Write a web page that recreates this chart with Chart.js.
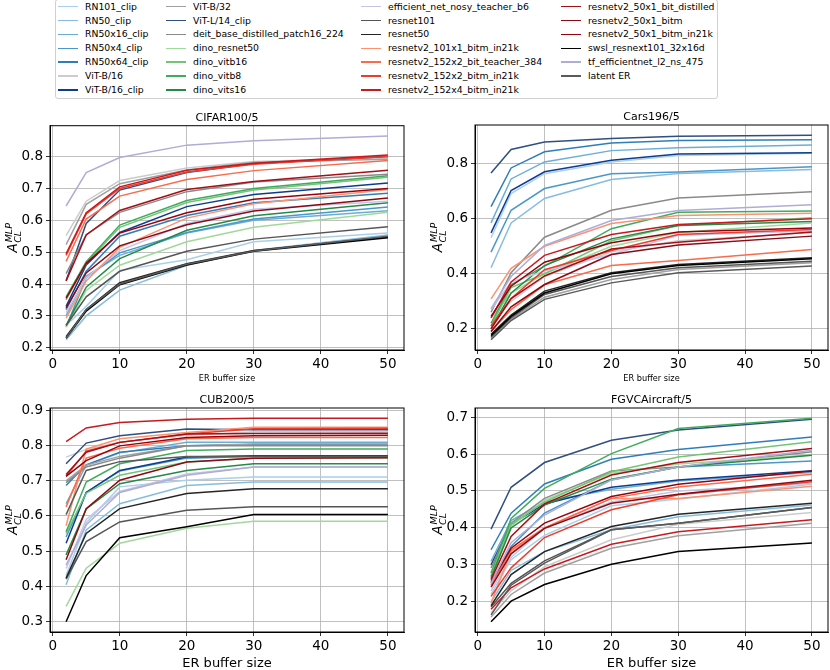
<!DOCTYPE html>
<html><head><meta charset="utf-8">
<script src="https://cdn.jsdelivr.net/npm/chart.js@4/dist/chart.umd.min.js"></script>
<style>
html,body{margin:0;padding:0;background:#fff;width:830px;height:670px;overflow:hidden;font-family:"DejaVu Sans",sans-serif;}
.cw{position:absolute;}
#legendBox{position:absolute;left:55px;top:-1px;width:663px;height:100px;border:1px solid #d0d0d0;border-radius:3px;box-sizing:border-box;background:#fff;}
.lt{position:absolute;font-size:9.3px;line-height:12px;height:12px;white-space:nowrap;color:#000;font-family:"DejaVu Sans";}
.sw{position:absolute;height:1.6px;width:20px;}
</style></head><body>
<div id="legendBox"></div>
<div id="legendItems"></div>
<div class="cw" style="left:0;top:100px;width:415px;height:285px"><canvas id="c0" width="415" height="285"></canvas></div>
<div class="cw" style="left:420px;top:100px;width:410px;height:285px"><canvas id="c1" width="410" height="285"></canvas></div>
<div class="cw" style="left:0;top:385px;width:415px;height:285px"><canvas id="c2" width="415" height="285"></canvas></div>
<div class="cw" style="left:420px;top:385px;width:410px;height:285px"><canvas id="c3" width="410" height="285"></canvas></div>
<script>
// ---------------- data ----------------
const xValues = [2, 5, 10, 20, 30, 50];
const xTicks = [0, 10, 20, 30, 40, 50];

const seriesNames = [
  'RN101_clip','RN50_clip','RN50x16_clip','RN50x4_clip','RN50x64_clip','ViT-B/16','ViT-B/16_clip',
  'ViT-B/32','ViT-L/14_clip','deit_base_distilled_patch16_224','dino_resnet50','dino_vitb16','dino_vitb8','dino_vits16',
  'efficient_net_nosy_teacher_b6','resnet101','resnet50','resnetv2_101x1_bitm_in21k','resnetv2_152x2_bit_teacher_384','resnetv2_152x2_bitm_in21k','resnetv2_152x4_bitm_in21k',
  'resnetv2_50x1_bit_distilled','resnetv2_50x1_bitm','resnetv2_50x1_bitm_in21k','swsl_resnext101_32x16d','tf_efficientnet_l2_ns_475','latent ER'
];
const seriesColors = [
  '#a9d0e9','#86bddf','#6aaed6','#4a98c9','#2f7ebc','#cccccc','#0d3d8f',
  '#a0a0a0','#2f4f82','#8a8a8a','#a1d99b','#74c476','#41ab5d','#238b45',
  '#c5c4e6','#555555','#252525','#fc9272','#fb6a4a','#ef3b2c','#cb181d',
  '#a50f15','#8b0a14','#99000d','#000000','#aeadd6','#5a5a5a'
];

const cifar100Values = [
  [0.27, 0.33, 0.443, 0.476, 0.533, 0.56],
  [0.225, 0.30, 0.381, 0.459, 0.505, 0.554],
  [0.30, 0.425, 0.49, 0.56, 0.60, 0.63],
  [0.265, 0.42, 0.498, 0.562, 0.604, 0.642],
  [0.32, 0.44, 0.55, 0.615, 0.655, 0.685],
  [0.552, 0.66, 0.725, 0.764, 0.785, 0.795],
  [0.33, 0.46, 0.562, 0.643, 0.681, 0.717],
  [0.524, 0.65, 0.715, 0.758, 0.782, 0.792],
  [0.41, 0.59, 0.695, 0.75, 0.778, 0.80],
  [0.433, 0.555, 0.625, 0.69, 0.72, 0.745],
  [0.265, 0.38, 0.459, 0.533, 0.578, 0.625],
  [0.35, 0.465, 0.578, 0.656, 0.695, 0.735],
  [0.36, 0.47, 0.585, 0.662, 0.70, 0.74],
  [0.27, 0.39, 0.48, 0.569, 0.614, 0.655],
  [0.31, 0.42, 0.505, 0.59, 0.635, 0.66],
  [0.27, 0.36, 0.44, 0.503, 0.541, 0.58],
  [0.235, 0.32, 0.404, 0.464, 0.505, 0.548],
  [0.293, 0.41, 0.515, 0.607, 0.652, 0.697],
  [0.471, 0.604, 0.676, 0.728, 0.756, 0.788],
  [0.49, 0.62, 0.70, 0.752, 0.776, 0.80],
  [0.495, 0.624, 0.705, 0.757, 0.779, 0.805],
  [0.41, 0.554, 0.631, 0.697, 0.722, 0.757],
  [0.325, 0.435, 0.52, 0.586, 0.629, 0.67],
  [0.355, 0.465, 0.56, 0.624, 0.666, 0.70],
  [0.23, 0.315, 0.398, 0.46, 0.503, 0.545],
  [0.645, 0.75, 0.797, 0.836, 0.85, 0.865],
  [0.23, 0.32, 0.40, 0.462, 0.504, 0.55]
];
const cars196Values = [
  [0.531, 0.692, 0.764, 0.807, 0.83, 0.838],
  [0.422, 0.585, 0.674, 0.743, 0.765, 0.779],
  [0.585, 0.745, 0.807, 0.848, 0.858, 0.868],
  [0.479, 0.631, 0.71, 0.764, 0.77, 0.789],
  [0.644, 0.785, 0.844, 0.876, 0.885, 0.888],
  [0.22, 0.30, 0.39, 0.48, 0.52, 0.55],
  [0.549, 0.703, 0.771, 0.813, 0.836, 0.84],
  [0.165, 0.235, 0.315, 0.379, 0.416, 0.44],
  [0.767, 0.852, 0.879, 0.892, 0.90, 0.904],
  [0.26, 0.404, 0.533, 0.631, 0.676, 0.698],
  [0.24, 0.33, 0.40, 0.50, 0.55, 0.585],
  [0.21, 0.35, 0.40, 0.52, 0.576, 0.604],
  [0.22, 0.36, 0.428, 0.564, 0.624, 0.628],
  [0.20, 0.33, 0.43, 0.527, 0.576, 0.59],
  [0.27, 0.37, 0.41, 0.47, 0.54, 0.556],
  [0.17, 0.24, 0.325, 0.39, 0.422, 0.446],
  [0.18, 0.25, 0.337, 0.404, 0.434, 0.458],
  [0.309, 0.42, 0.50, 0.583, 0.612, 0.62],
  [0.19, 0.27, 0.36, 0.43, 0.448, 0.488],
  [0.21, 0.31, 0.415, 0.485, 0.543, 0.561],
  [0.24, 0.37, 0.467, 0.543, 0.579, 0.60],
  [0.20, 0.31, 0.392, 0.49, 0.515, 0.552],
  [0.19, 0.28, 0.361, 0.47, 0.505, 0.537],
  [0.245, 0.355, 0.442, 0.513, 0.552, 0.567],
  [0.175, 0.245, 0.33, 0.40, 0.43, 0.455],
  [0.273, 0.39, 0.503, 0.594, 0.63, 0.651],
  [0.16, 0.23, 0.307, 0.367, 0.404, 0.428]
];
const cub200Values = [
  [0.43, 0.58, 0.683, 0.702, 0.711, 0.711],
  [0.404, 0.56, 0.635, 0.687, 0.697, 0.697],
  [0.635, 0.745, 0.78, 0.81, 0.81, 0.81],
  [0.54, 0.667, 0.728, 0.765, 0.77, 0.77],
  [0.687, 0.746, 0.782, 0.80, 0.804, 0.804],
  [0.768, 0.79, 0.81, 0.83, 0.84, 0.84],
  [0.522, 0.667, 0.73, 0.768, 0.772, 0.772],
  [0.70, 0.745, 0.77, 0.80, 0.805, 0.805],
  [0.749, 0.808, 0.829, 0.848, 0.846, 0.846],
  [0.695, 0.74, 0.765, 0.80, 0.80, 0.80],
  [0.342, 0.451, 0.522, 0.565, 0.585, 0.585],
  [0.55, 0.665, 0.716, 0.754, 0.765, 0.766],
  [0.555, 0.697, 0.749, 0.787, 0.791, 0.791],
  [0.489, 0.62, 0.692, 0.73, 0.749, 0.749],
  [0.45, 0.59, 0.67, 0.72, 0.74, 0.74],
  [0.42, 0.527, 0.583, 0.616, 0.626, 0.626],
  [0.423, 0.55, 0.621, 0.664, 0.678, 0.678],
  [0.572, 0.791, 0.82, 0.838, 0.853, 0.853],
  [0.626, 0.765, 0.793, 0.82, 0.824, 0.824],
  [0.713, 0.785, 0.81, 0.834, 0.849, 0.85],
  [0.812, 0.851, 0.867, 0.876, 0.879, 0.879],
  [0.718, 0.782, 0.81, 0.834, 0.835, 0.836],
  [0.475, 0.621, 0.702, 0.754, 0.765, 0.766],
  [0.713, 0.758, 0.80, 0.824, 0.829, 0.83],
  [0.298, 0.43, 0.538, 0.569, 0.604, 0.604],
  [0.46, 0.574, 0.667, 0.716, 0.74, 0.74],
  [0.604, 0.73, 0.755, 0.77, 0.77, 0.77]
];
const fgvcAircraftValues = [
  [0.22, 0.314, 0.38, 0.46, 0.478, 0.518],
  [0.20, 0.285, 0.336, 0.395, 0.43, 0.462],
  [0.31, 0.42, 0.47, 0.505, 0.527, 0.55],
  [0.25, 0.35, 0.44, 0.53, 0.565, 0.581],
  [0.341, 0.44, 0.519, 0.586, 0.612, 0.646],
  [0.17, 0.23, 0.295, 0.368, 0.41, 0.442],
  [0.30, 0.41, 0.465, 0.51, 0.53, 0.555],
  [0.159, 0.22, 0.278, 0.345, 0.379, 0.413],
  [0.397, 0.51, 0.577, 0.637, 0.665, 0.694],
  [0.292, 0.413, 0.48, 0.554, 0.565, 0.606],
  [0.27, 0.405, 0.475, 0.548, 0.573, 0.598],
  [0.27, 0.41, 0.47, 0.552, 0.592, 0.633],
  [0.278, 0.426, 0.507, 0.601, 0.669, 0.697],
  [0.265, 0.40, 0.462, 0.532, 0.565, 0.597],
  [0.23, 0.32, 0.40, 0.47, 0.50, 0.52],
  [0.186, 0.25, 0.311, 0.395, 0.413, 0.455],
  [0.19, 0.274, 0.336, 0.404, 0.437, 0.467],
  [0.197, 0.336, 0.40, 0.48, 0.48, 0.513],
  [0.245, 0.34, 0.40, 0.48, 0.511, 0.545],
  [0.215, 0.292, 0.374, 0.449, 0.49, 0.525],
  [0.18, 0.238, 0.289, 0.356, 0.39, 0.422],
  [0.26, 0.377, 0.465, 0.543, 0.577, 0.615],
  [0.24, 0.33, 0.399, 0.467, 0.491, 0.529],
  [0.255, 0.345, 0.413, 0.485, 0.518, 0.554],
  [0.146, 0.202, 0.247, 0.302, 0.336, 0.359],
  [0.25, 0.36, 0.435, 0.53, 0.565, 0.61],
  [0.165, 0.245, 0.305, 0.395, 0.413, 0.455]
];

const cifar100Ticks = [0.2, 0.3, 0.4, 0.5, 0.6, 0.7, 0.8];
const cars196Ticks = [0.2, 0.4, 0.6, 0.8];
const cub200Ticks = [0.3, 0.4, 0.5, 0.6, 0.7, 0.8, 0.9];
const fgvcAircraftTicks = [0.2, 0.3, 0.4, 0.5, 0.6, 0.7];
const panelTitles = ['CIFAR100/5', 'Cars196/5', 'CUB200/5', 'FGVCAircraft/5'];
const xAxisTitle = 'ER buffer size';

// ---------------- legend (HTML, column-major like matplotlib) ----------------
const legendTextX = [85, 193, 388, 588];
const legendRows = 7;
(function buildLegend(){
  const host = document.getElementById('legendItems');
  seriesNames.forEach((name, i) => {
    const col = Math.floor(i / legendRows), row = i % legendRows;
    const yc = 6.7 + row * 13.88;
    const sw = document.createElement('div');
    sw.className = 'sw';
    sw.style.left = (legendTextX[col] - 27) + 'px';
    sw.style.top = (yc - 0.8) + 'px';
    sw.style.background = seriesColors[i];
    host.appendChild(sw);
    const t = document.createElement('div');
    t.className = 'lt';
    t.style.left = legendTextX[col] + 'px';
    t.style.top = (yc - 6) + 'px';
    t.textContent = name;
    host.appendChild(t);
  });
})();

// ---------------- charts ----------------
Chart.defaults.font.family = '"DejaVu Sans"';
Chart.defaults.color = '#000';

function drawYTitle(ctx, cx, cy) {
  ctx.save();
  ctx.translate(cx, cy);
  ctx.rotate(-Math.PI / 2);
  ctx.fillStyle = '#000';
  ctx.textAlign = 'left';
  ctx.textBaseline = 'alphabetic';
  const big = 'italic 13.5px "DejaVu Sans"';
  const small = 'italic 9.5px "DejaVu Sans"';
  ctx.font = big; const wA = ctx.measureText('A').width;
  ctx.font = small;
  const wSup = ctx.measureText('MLP').width, wSub = ctx.measureText('CL').width;
  const total = wA + 1 + Math.max(wSup, wSub);
  const x0 = -total / 2;
  ctx.font = big; ctx.fillText('A', x0, 0);
  ctx.font = small;
  ctx.fillText('MLP', x0 + wA + 1, -5);
  ctx.fillText('CL', x0 + wA + 0.5, 3.5);
  ctx.restore();
}

const decorPlugin = {
  id: 'decor',
  afterDraw(chart, args, opts) {
    const ctx = chart.ctx, a = chart.chartArea;
    ctx.save();
    ctx.strokeStyle = '#000';
    ctx.lineWidth = 1;
    ctx.strokeRect(a.left, a.top, a.right - a.left, a.bottom - a.top);
    ctx.fillStyle = '#000';
    ctx.textAlign = 'center';
    ctx.textBaseline = 'alphabetic';
    ctx.font = '11px "DejaVu Sans"';
    ctx.fillText(opts.title, (a.left + a.right) / 2, a.top - 5);
    ctx.font = opts.xTitleSize + 'px "DejaVu Sans"';
    ctx.fillText(xAxisTitle, (a.left + a.right) / 2, a.bottom + opts.xTitleOffset);
    ctx.restore();
    drawYTitle(ctx, a.left - 33, (a.top + a.bottom) / 2);
  }
};

const panels = [
  { id: 'c0', title: panelTitles[0], values: cifar100Values, yTicks: cifar100Ticks, yW: 50, xH: 35, padTop: 25.7, padRight: 11, xTitleSize: 8.2, xTitleOffset: 31 },
  { id: 'c1', title: panelTitles[1], values: cars196Values, yTicks: cars196Ticks, yW: 55, xH: 35, padTop: 25, padRight: 2, xTitleSize: 8.2, xTitleOffset: 31 },
  { id: 'c2', title: panelTitles[2], values: cub200Values, yTicks: cub200Ticks, yW: 50, xH: 38, padTop: 23, padRight: 11, xTitleSize: 13, xTitleOffset: 35 },
  { id: 'c3', title: panelTitles[3], values: fgvcAircraftValues, yTicks: fgvcAircraftTicks, yW: 55, xH: 38, padTop: 23, padRight: 2, xTitleSize: 13, xTitleOffset: 35 }
];

const xSpan = Math.max(...xValues) - Math.min(...xValues);
const xMin = Math.min(...xValues) - 0.05 * xSpan;
const xMax = Math.max(...xValues) + 0.05 * xSpan;

panels.forEach(p => {
  const all = p.values.flat();
  const lo = Math.min(...all), hi = Math.max(...all);
  const m = 0.05 * (hi - lo);
  const datasets = p.values.map((vals, i) => ({
    label: seriesNames[i],
    data: xValues.map((x, j) => ({ x: x, y: vals[j] })),
    borderColor: seriesColors[i],
    backgroundColor: seriesColors[i],
    borderWidth: 1.5,
    pointRadius: 0,
    tension: 0,
    fill: false,
    order: seriesNames.length - i
  }));
  new Chart(document.getElementById(p.id), {
    type: 'line',
    data: { datasets },
    plugins: [decorPlugin],
    options: {
      responsive: false,
      animation: false,
      devicePixelRatio: 1,
      layout: { padding: { left: 0, right: p.padRight, top: p.padTop, bottom: 0 } },
      plugins: {
        legend: { display: false },
        tooltip: { enabled: false },
        decor: { title: p.title, xTitleSize: p.xTitleSize, xTitleOffset: p.xTitleOffset }
      },
      scales: {
        x: {
          type: 'linear', min: xMin, max: xMax,
          afterBuildTicks: s => { s.ticks = xTicks.map(v => ({ value: v })); },
          afterFit: s => { s.height = p.xH; },
          ticks: { font: { size: 13.5 }, color: '#000', padding: 2, maxRotation: 0, callback: v => String(v) },
          grid: { color: '#b0b0b0', lineWidth: 0.8, tickColor: '#000', tickLength: 4, tickWidth: 0.8 },
          border: { display: true, color: '#000', width: 1 }
        },
        y: {
          type: 'linear', min: lo - m, max: hi + m,
          afterBuildTicks: s => { s.ticks = p.yTicks.map(v => ({ value: v })); },
          afterFit: s => { s.width = p.yW; },
          ticks: { font: { size: 13.5 }, color: '#000', padding: 3, callback: v => Number(v).toFixed(1) },
          grid: { color: '#b0b0b0', lineWidth: 0.8, tickColor: '#000', tickLength: 4, tickWidth: 0.8 },
          border: { display: true, color: '#000', width: 1 }
        }
      }
    }
  });
});
</script>
</body></html>
